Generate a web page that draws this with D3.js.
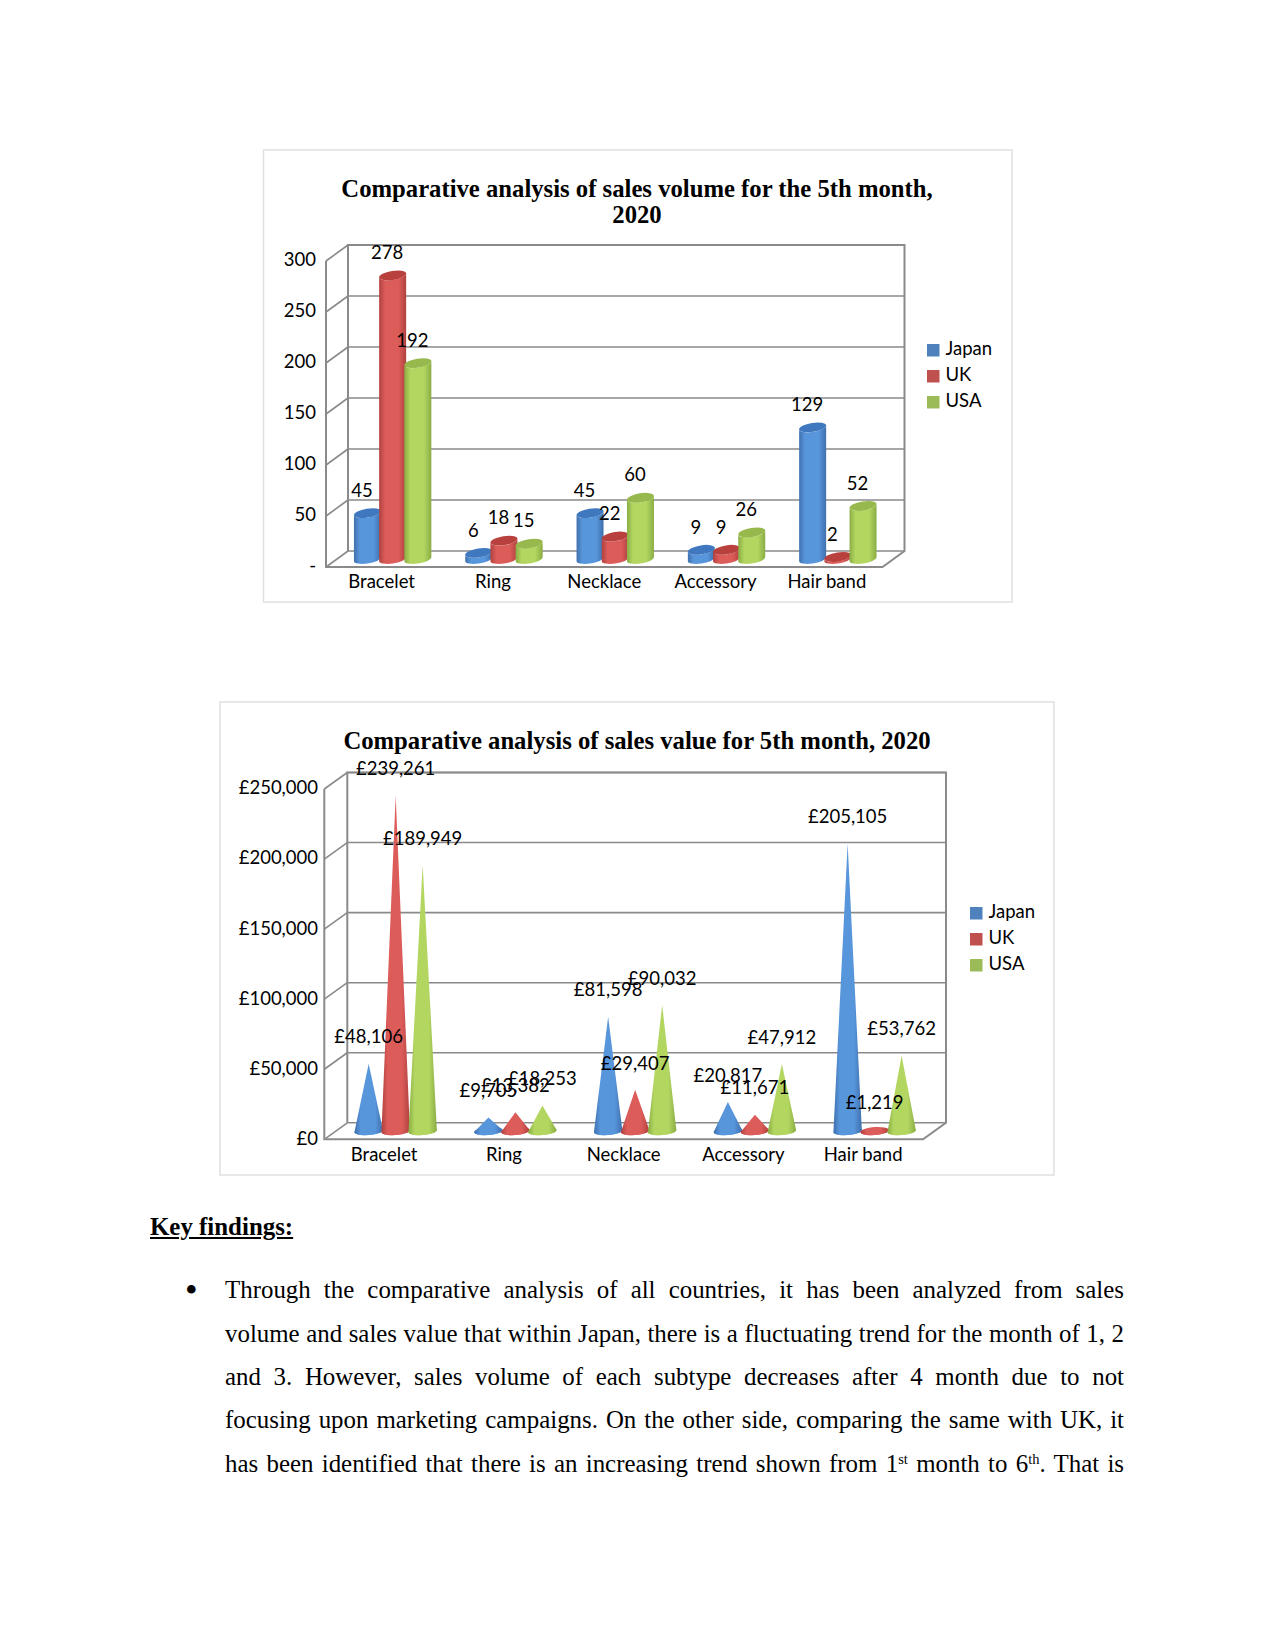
<!DOCTYPE html>
<html><head><meta charset="utf-8">
<script src="https://cdn.jsdelivr.net/npm/d3@7/dist/d3.min.js"></script>
<style>
html,body{margin:0;padding:0;background:#fff;width:1275px;height:1651px;overflow:hidden}
#page{position:relative;width:1275px;height:1651px}
svg{position:absolute;left:0;top:0}
.line{position:absolute;left:225px;width:899px;font:24.9px "Liberation Serif",serif;line-height:30px;color:#000;text-align:justify;text-align-last:justify;white-space:nowrap}
.line sup{font-size:14.5px;line-height:0;vertical-align:8px}
</style></head><body><div id="page"></div>
<script>
const categories = ["Bracelet","Ring","Necklace","Accessory","Hair band"];
const seriesNames = ["Japan","UK","USA"];
const volumeJapan = [45,6,45,9,129];
const volumeUK = [278,18,22,9,2];
const volumeUSA = [192,15,60,26,52];
const valueJapan = [48106,9705,81598,20817,205105];
const valueUK = [239261,13382,29407,11671,1219];
const valueUSA = [189949,18253,90032,47912,53762];
const volumeTitle = ["Comparative analysis of sales volume for the 5th month,","2020"];
const valueTitle = ["Comparative analysis of sales value for 5th month, 2020"];
const bodyHeading = "Key findings:";
const bodyLines = [
 "Through the comparative analysis of all countries, it has been analyzed from sales",
 "volume and sales value that within Japan, there is a fluctuating trend for the month of 1, 2",
 "and 3. However, sales volume of each subtype decreases after 4 month due to not",
 "focusing upon marketing campaigns. On the other side, comparing the same with UK, it",
 "has been identified that there is an increasing trend shown from 1<sup>st</sup> month to 6<sup>th</sup>. That is"
];
const seriesColor = d3.scaleOrdinal(seriesNames,["#4F81BD","#C0504D","#9BBB59"]);
const shades = {
 Japan:{edge:"#3f70ad",mid:"#5896dc",top:"#3f78bf"},
 UK:{edge:"#b0413e",mid:"#dc5c5a",top:"#b8403d"},
 USA:{edge:"#8aad45",mid:"#b2d660",top:"#96b84c"}
};
const page = d3.select("#page");
const svg = page.append("svg").attr("width",1275).attr("height",1651);
const defs = svg.append("defs");
seriesNames.forEach(s=>{
  const g = defs.append("linearGradient").attr("id","grad"+s).attr("x1",0).attr("x2",1).attr("y1",0).attr("y2",0);
  [[0,shades[s].edge],[.22,shades[s].mid],[.72,shades[s].mid],[1,shades[s].edge]].forEach(([o,c])=>g.append("stop").attr("offset",o).attr("stop-color",c));
});
const LABEL_FONT = 'Lato,"Open Sans",sans-serif';
const WALL = "#8a8a8a";

function chart(c){
  const g = svg.append("g");
  g.append("rect").attr("x",c.frame[0]).attr("y",c.frame[1]).attr("width",c.frame[2]-c.frame[0]).attr("height",c.frame[3]-c.frame[1])
    .attr("fill","#fff").attr("stroke","#e0e0e0").attr("stroke-width",1.5);
  c.title.forEach((t,i)=>g.append("text").attr("x",c.titleX).attr("y",c.titleY+i*25.8).attr("text-anchor","middle")
    .attr("font-family",'"Liberation Serif",serif').attr("font-weight","bold").attr("font-size",c.titleSize).text(t));

  const yFront = d3.scaleLinear().domain([0,c.max]).range([c.floorFront,c.topFront]);
  const yMid = yFront.copy().range([c.floorFront-c.depthY/2,c.topFront-c.depthY/2]);
  const x = d3.scaleBand().domain(categories).range([c.left,c.right]);
  const xS = d3.scalePoint().domain(seriesNames).range([-c.step,c.step]);
  const ticks = yFront.ticks(c.tickCount);

  const grid = g.append("g").attr("fill","none").attr("stroke",WALL).attr("stroke-width",1.6);
  grid.selectAll(".h").data(ticks).join("line").attr("x1",c.left+c.depthX).attr("x2",c.right+c.depthX)
    .attr("y1",d=>yFront(d)-c.depthY).attr("y2",d=>yFront(d)-c.depthY);
  grid.selectAll(".d").data(ticks).join("line").attr("x1",c.left).attr("x2",c.left+c.depthX)
    .attr("y1",d=>yFront(d)).attr("y2",d=>yFront(d)-c.depthY);
  grid.append("path").attr("stroke-width",2).attr("d",
    `M${c.left},${yFront(c.max)}V${yFront(0)}H${c.right}L${c.right+c.depthX},${yFront(0)-c.depthY}V${yFront(c.max)-c.depthY}H${c.left+c.depthX}V${yFront(0)-c.depthY}`);

  const yAxis = g.append("g").attr("transform",`translate(${c.tickX},-1)`)
    .call(d3.axisLeft(yFront).tickValues(ticks).tickSize(0).tickPadding(0).tickFormat(c.tickFormat));
  yAxis.select(".domain").remove();
  yAxis.selectAll("text").attr("font-family",LABEL_FONT).attr("font-size",c.fontSize).attr("fill","#000");

  const xAxis = g.append("g").attr("transform",`translate(0,${c.catY})`)
    .call(d3.axisBottom(x).tickSize(0).tickPadding(0));
  xAxis.select(".domain").remove();
  xAxis.selectAll("text").attr("font-family",LABEL_FONT).attr("font-size",c.fontSize).attr("fill","#000").attr("dy",0).attr("dominant-baseline","middle");

  const rows = c.series.flatMap((vals,si)=>vals.map((v,ci)=>({v,s:seriesNames[si],cat:categories[ci]})));
  const cx = d=>x(d.cat)+x.bandwidth()/2+c.depthX/2+xS(d.s);
  const tilt = 1.9, ang=-9;
  rows.forEach(d=>{
    const X=cx(d), r=c.rx, yt=yMid(d.v), yb=yMid(0), ry=c.ry;
    if(c.kind==="bar"){
      g.append("path").attr("fill",`url(#grad${d.s})`).attr("d",
       `M${X-r},${yt+tilt}L${X-r},${yb+tilt}A${r},${ry} ${ang} 0 0 ${X+r},${yb-tilt}L${X+r},${yt-tilt}A${r},${ry} ${ang} 0 1 ${X-r},${yt+tilt}Z`);
      g.append("ellipse").attr("cx",X).attr("cy",yt).attr("rx",r+.2).attr("ry",ry)
       .attr("transform",`rotate(${ang} ${X} ${yt})`).attr("fill",shades[d.s].top);
    } else {
      g.append("ellipse").attr("cx",X).attr("cy",yb).attr("rx",r).attr("ry",ry)
       .attr("transform",`rotate(${ang/2} ${X} ${yb})`).attr("fill",`url(#grad${d.s})`);
      g.append("path").attr("fill",`url(#grad${d.s})`).attr("d",
       `M${X},${yt}L${X+r},${yb-tilt*.5}A${r},${ry} ${ang/2} 0 1 ${X-r},${yb+tilt*.5}Z`);
    }
  });
  g.append("g").selectAll("text").data(rows).join("text")
    .attr("x",d=>cx(d)+c.labelDx).attr("y",d=>yMid(d.v)+c.labelDy)
    .attr("text-anchor","middle").attr("dominant-baseline","middle")
    .attr("font-family",LABEL_FONT).attr("font-size",c.fontSize).text(d=>c.labelFormat(d.v));

  const leg = g.append("g").selectAll("g").data(seriesNames).join("g")
    .attr("transform",(d,i)=>`translate(${c.legX},${c.legY+i*26})`);
  leg.append("rect").attr("width",12.5).attr("height",12.5).attr("fill",d=>seriesColor(d));
  leg.append("text").attr("x",18.5).attr("y",6.5).attr("dominant-baseline","middle")
    .attr("font-family",LABEL_FONT).attr("font-size",c.fontSize).text(d=>d);
}

chart({kind:"bar",frame:[263.5,150,1012,602],title:volumeTitle,titleX:637,titleY:197,titleSize:24.7,
  series:[volumeJapan,volumeUK,volumeUSA],max:300,tickCount:6,tickFormat:d=>d===0?"-":d,labelFormat:d=>d,
  left:326,right:882.5,depthX:22,depthY:16,floorFront:567,topFront:261,step:25.2,rx:13.5,ry:4.5,
  labelDx:-5.5,labelDy:-21,tickX:316,catY:583.5,fontSize:18.5,legX:927,legY:344});
chart({kind:"cone",frame:[220,702,1054,1175],title:valueTitle,titleX:637,titleY:749,titleSize:24.7,
  series:[valueJapan,valueUK,valueUSA],max:250000,tickCount:5,tickFormat:d=>"£"+d3.format(",")(d),labelFormat:d=>"£"+d3.format(",")(d),
  left:324.3,right:923,depthX:23,depthY:16.5,floorFront:1139.3,topFront:789,step:27,rx:14.2,ry:4,
  labelDx:0,labelDy:-25,tickX:318,catY:1156,fontSize:18.5,legX:970,legY:907});

page.append("div").attr("class","line").style("left","150px").style("top","1212px").style("width","auto")
  .style("text-align-last","left").style("font-weight","bold").style("text-decoration","underline").text(bodyHeading);
page.append("div").attr("class","line").style("left","185px").style("top","1275px").style("width","auto").style("font-size","36px").style("text-align-last","left").text("\u2022");
page.selectAll("div.body").data(bodyLines).join("div").attr("class","line body")
  .style("top",(d,i)=>(1275.4+i*43.3)+"px").html(d=>d);
</script></body></html>
